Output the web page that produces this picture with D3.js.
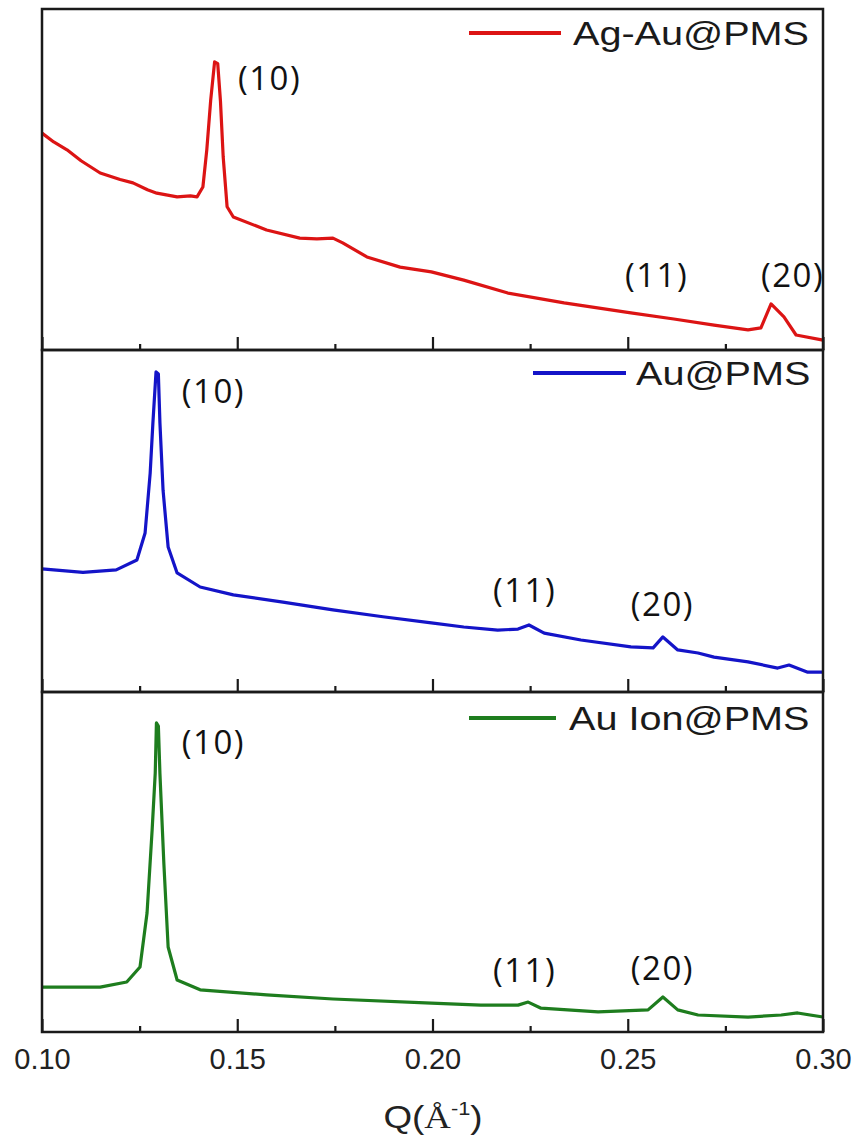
<!DOCTYPE html>
<html><head><meta charset="utf-8">
<script src="https://cdn.jsdelivr.net/npm/d3@7/dist/d3.min.js"></script>
<style>body{margin:0;background:#fff}</style>
</head><body>
<svg id="c" width="862" height="1142"></svg>
<script>
// ---- data ----
const seriesNames = ["Ag-Au@PMS", "Au@PMS", "Au Ion@PMS"];
const agAuQ = [0.100,0.103,0.1064,0.110,0.1149,0.120,0.1233,0.127,0.1294,0.1346,0.138,0.1397,0.1412,0.1422,0.1432,0.1442,0.1450,0.1457,0.1464,0.1474,0.149,0.1575,0.166,0.1704,0.1745,0.177,0.1832,0.1917,0.1997,0.208,0.2193,0.2337,0.2508,0.2618,0.2721,0.2808,0.2841,0.2867,0.2900,0.2931,0.300];
const agAuI = [63.6,61.0,58.7,55.5,51.9,50.0,49.0,47.0,46.0,44.9,45.2,44.9,47.8,58.7,73.3,84.5,84.0,73.0,56.6,42.0,39.0,35.2,32.8,32.6,32.8,31.4,27.3,24.3,22.9,20.5,16.7,13.8,10.9,9.1,7.3,5.9,6.5,13.5,9.7,4.4,2.9];
const auQ = [0.100,0.1105,0.119,0.1243,0.1264,0.1277,0.1284,0.1292,0.1298,0.1302,0.131,0.1323,0.1346,0.1405,0.149,0.1617,0.1745,0.1873,0.1997,0.208,0.2167,0.2219,0.2247,0.2286,0.238,0.2508,0.2565,0.259,0.2628,0.268,0.2721,0.2808,0.2884,0.2913,0.2961,0.300];
const auI = [36.0,35.0,35.7,38.6,46.5,64.0,78.7,93.6,93.0,78.7,59.0,42.4,34.8,30.7,28.4,26.3,24.0,22.0,20.2,19.0,18.1,18.4,19.6,17.2,15.2,13.2,12.9,16.1,12.3,11.4,10.2,8.8,7.0,7.9,5.8,5.8];
const auIonQ = [0.100,0.1149,0.1217,0.1251,0.1269,0.1282,0.1290,0.1293,0.1298,0.1302,0.1312,0.1323,0.1346,0.1405,0.1575,0.1745,0.1997,0.2124,0.2219,0.2245,0.2278,0.2424,0.2552,0.259,0.2628,0.268,0.2808,0.2893,0.2935,0.300];
const auIonI = [13.2,13.2,14.7,19.1,35.0,59.4,76.2,90.9,90.0,76.0,49.7,25.0,15.3,12.4,10.9,9.7,8.5,7.9,7.9,8.8,7.0,5.9,6.5,10.3,6.5,5.0,4.4,5.0,5.6,4.4];
const majorTicks = [0.10,0.15,0.20,0.25,0.30];
const minorTicks = [0.125,0.175,0.225,0.275];
const tickLabels = ["0.10","0.15","0.20","0.25","0.30"];
const peakText = ["(10)","(11)","(20)"];

// ---- layout ----
const svg = d3.select("#c");
const L = 42, R = 823;
const panelTop = [9, 350, 692], panelBot = [350, 692, 1032];
const colors = ["#dc1414", "#1414c8", "#1e7d1e"];
const x = d3.scaleLinear().domain([0.10, 0.30]).range([L, R]);

const data = [
  agAuQ.map((q,i)=>({q, v: agAuI[i]})),
  auQ.map((q,i)=>({q, v: auI[i]})),
  auIonQ.map((q,i)=>({q, v: auIonI[i]}))
];
// label positions in data coords (q of left edge, intensity of baseline)
const labelPos = [
  [[0.1502, 76.3], [0.2493, 18.5], [0.2841, 18.5]],
  [[0.1358, 84.5], [0.2155, 26.3], [0.2508, 22.2]],
  [[0.1358, 81.8], [0.2155, 14.7], [0.2508, 15.3]]
];
const legendY = [33, 373, 718];
const legendX = [[469, 561, 573], [533, 626, 636], [469, 556, 569]];

for (let p = 0; p < 3; p++) {
  const y = d3.scaleLinear().domain([0, 100]).range([panelBot[p], panelTop[p]]);
  const g = svg.append("g");
  g.append("path").datum(data[p])
    .attr("fill", "none").attr("stroke", colors[p]).attr("stroke-width", 3.2)
    .attr("stroke-linejoin", "round")
    .attr("d", d3.line().x(d => x(d.q)).y(d => y(d.v)));
  g.append("rect").attr("x", L).attr("y", panelTop[p])
    .attr("width", R - L).attr("height", panelBot[p] - panelTop[p])
    .attr("fill", "none").attr("stroke", "#1a1a1a").attr("stroke-width", 2.5);
  const ax = g.append("g").attr("transform", `translate(0,${panelBot[p]})`)
    .call(d3.axisBottom(x).tickValues(majorTicks).tickSize(-13).tickPadding(16)
      .tickFormat((d,i) => p === 2 ? tickLabels[i] : ""));
  ax.select(".domain").remove();
  ax.selectAll("line").attr("stroke", "#1a1a1a").attr("stroke-width", 2.2);
  ax.selectAll("text").attr("font-family", "'Liberation Sans', Arial, sans-serif")
    .attr("font-size", 29).attr("fill", "#222");
  const axm = g.append("g").attr("transform", `translate(0,${panelBot[p]})`)
    .call(d3.axisBottom(x).tickValues(minorTicks).tickSize(-6).tickFormat(""));
  axm.select(".domain").remove();
  axm.selectAll("line").attr("stroke", "#1a1a1a").attr("stroke-width", 2.2);
  // legend
  g.append("line").attr("x1", legendX[p][0]).attr("x2", legendX[p][1])
    .attr("y1", legendY[p]).attr("y2", legendY[p])
    .attr("stroke", colors[p]).attr("stroke-width", 4);
  g.append("text").attr("transform", `translate(${legendX[p][2]},${legendY[p] + 12}) scale(1.2,1)`)
    .attr("font-family", "'Liberation Sans', Arial, sans-serif").attr("font-size", 33)
    .attr("fill", "#1a1a1a").text(seriesNames[p]);
  // peak labels
  labelPos[p].forEach((lp, i) => {
    g.append("text").attr("x", x(lp[0])).attr("y", y(lp[1]))
      .attr("font-family", "'Open Sans', 'Noto Sans', sans-serif").attr("font-size", 33)
      .attr("letter-spacing", 1.5).attr("fill", "#111").text(peakText[i]);
  });
}

// axis title
const t = svg.append("text").attr("transform", "translate(433,1128) scale(1.15,1)").attr("text-anchor", "middle")
  .attr("font-family", "'Liberation Sans', Arial, sans-serif").attr("font-size", 32).attr("fill", "#222");
t.append("tspan").text("Q(");
t.append("tspan").attr("font-family", "'Liberation Serif', serif").text("Å");
t.append("tspan").attr("font-size", 19).attr("dy", -13).text("-1");
t.append("tspan").attr("dy", 13).text(")");
</script>
</body></html>
